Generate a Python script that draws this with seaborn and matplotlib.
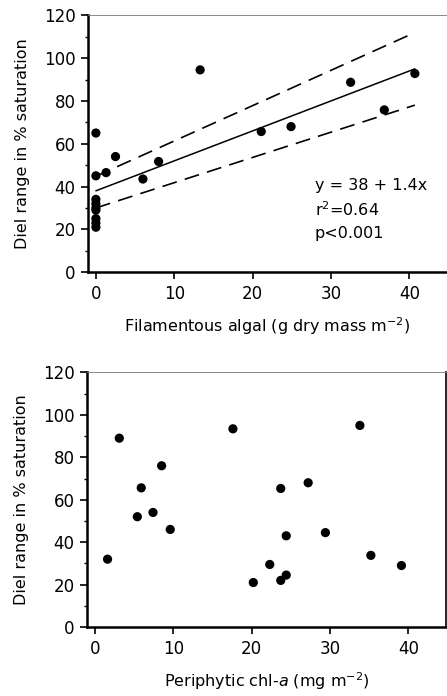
import matplotlib
matplotlib.use("Agg")
import matplotlib.pyplot as plt
import seaborn as sns
import numpy as np
import pandas as pd

# top panel: filamentous algae vs diel range
algal_mass = [0, 0, 0, 0, 0, 0, 0, 0, 0,
              1.3, 2.5, 6.0, 8.0, 13.3, 21.1, 24.9, 32.5, 36.8, 40.7]
diel_top = [65, 45, 34, 32, 30, 29, 25, 23, 21,
            46.5, 54, 43.5, 51.7, 94.5, 65.7, 68, 88.7, 75.8, 92.8]

# regression line and dashed bands (intercept, slope)
fit_line = (38, 1.4)
band_upper = (44.8, 1.65)
band_lower = (30, 1.18)

# bottom panel: periphytic chl-a vs diel range
chl_a = [1.6, 3.1, 5.4, 5.9, 7.4, 8.5, 9.6, 17.6, 20.2, 22.3,
         23.7, 23.7, 24.4, 24.4, 27.2, 29.4, 33.8, 35.2, 39.1]
diel_bottom = [32, 89, 52, 65.6, 54, 76, 46, 93.4, 21, 29.5,
               65.3, 22, 24.5, 43, 68, 44.5, 95, 33.8, 29]

y_ticks = [0, 20, 40, 60, 80, 100, 120]
x_ticks = [0, 10, 20, 30, 40]

sns.set_style("ticks")
plt.rcParams['font.family'] = ['DejaVu Sans']
plt.rcParams['mathtext.fontset'] = 'dejavusans'
plt.rcParams.update({'text.color': 'black', 'axes.labelcolor': 'black',
                     'xtick.color': 'black', 'ytick.color': 'black',
                     'axes.edgecolor': 'black'})

fig = plt.figure(figsize=(4.47, 6.96), dpi=100)
ax1 = fig.add_axes([0.197, 0.609, 0.803, 0.369])
ax2 = fig.add_axes([0.195, 0.099, 0.803, 0.366])

top = pd.DataFrame({'x': algal_mass, 'y': diel_top})
bot = pd.DataFrame({'x': chl_a, 'y': diel_bottom})

sns.scatterplot(data=top, x='x', y='y', ax=ax1, color='black', s=44,
                edgecolor='none', zorder=3)
sns.scatterplot(data=bot, x='x', y='y', ax=ax2, color='black', s=44,
                edgecolor='none', zorder=3)

xs = np.array([0, max(algal_mass)])
ax1.plot(xs, fit_line[0] + fit_line[1] * xs, color='black', lw=1.1)
ax1.plot(xs, band_upper[0] + band_upper[1] * xs, color='black', lw=1.2,
         dashes=(9, 5))
ax1.plot(xs, band_lower[0] + band_lower[1] * xs, color='black', lw=1.2,
         dashes=(9, 5))

ax1.text(27.9, 40.5, "y = 38 + 1.4x", fontsize=11.5, va='center')
ax1.text(27.9, 29.0, "r$^2$=0.64", fontsize=11.5, va='center')
ax1.text(27.9, 18.0, "p<0.001", fontsize=11.5, va='center')

for ax in (ax1, ax2):
    ax.set_xlim(-1.0, 44.8)
    ax.set_ylim(0, 120)
    ax.set_xticks(x_ticks)
    ax.set_yticks(y_ticks)
    ax.set_yticks(range(10, 120, 20), minor=True)
    ax.tick_params(axis='both', which='major', labelsize=12, length=5,
                   width=1.2, color='black', pad=4)
    ax.tick_params(axis='y', which='minor', length=2.5, width=1)
    ax.set_ylabel("Diel range in % saturation", fontsize=11.5, labelpad=10)
    ax.spines['left'].set_linewidth(1.8)
    ax.spines['bottom'].set_linewidth(1.8)
    ax.spines['top'].set_linewidth(0.6)
    ax.spines['top'].set_color('#777777')
    ax.spines['right'].set_visible(False)

ax2.spines['right'].set_visible(True)
ax2.spines['right'].set_linewidth(1.2)

ax1.set_xlabel("Filamentous algal (g dry mass m$^{-2}$)", fontsize=11.5, labelpad=9)
ax2.set_xlabel("Periphytic chl-$a$ (mg m$^{-2}$)", fontsize=11.5, labelpad=9)

fig.savefig("out.png", dpi=100)
